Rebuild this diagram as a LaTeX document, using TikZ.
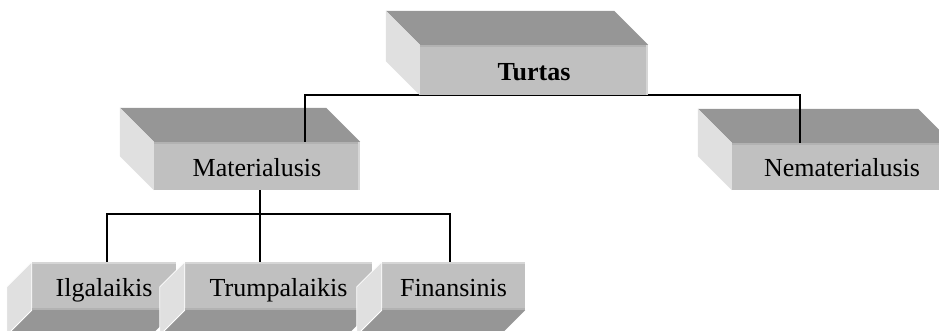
\documentclass[tikz,border=0pt]{standalone}
\usepackage{fontspec}
\setmainfont{Liberation Serif}
\usetikzlibrary{calc}

\definecolor{topface}{HTML}{969696}
\definecolor{frontface}{HTML}{C0C0C0}
\definecolor{sideface}{HTML}{E0E0E0}
\definecolor{edgedark}{HTML}{B2B2B2}
\definecolor{edgelight}{HTML}{D6D6D6}

\pgfdeclarelayer{front}
\pgfsetlayers{main,front}

% block standing up: top face above, side face on the left
\newcommand\raisedfaces[2]{%
  \fill[topface] (#1.north west) -- ++(-#2,#2) -- ($(#1.north east)+(-#2,#2)$) -- (#1.north east) -- cycle;
  \fill[sideface] (#1.north west) -- ++(-#2,#2) -- ($(#1.south west)+(-#2,#2)$) -- (#1.south west) -- cycle;
  \draw[edgedark, line width=2pt] ([yshift=-1pt]#1.north west) -- ([yshift=-1pt]#1.north east);
  \draw[edgelight, line width=2pt] ([xshift=-1pt]#1.north east) -- ([xshift=-1pt]#1.south east);
}
% block seen from below: bottom face underneath, side face on the left
\newcommand\loweredfaces[2]{%
  \fill[topface] (#1.south west) -- ++(-#2,-#2) -- ($(#1.south east)+(-#2,-#2)$) -- (#1.south east) -- cycle;
  \filldraw[fill=sideface, draw=white, line width=0.8pt] (#1.north west) -- ++(-#2,-#2) -- ($(#1.south west)+(-#2,-#2)$) -- (#1.south west) -- cycle;
  \draw[edgelight, line width=2pt] ([yshift=-1pt]#1.north west) -- ([yshift=-1pt]#1.north east);
  \draw[edgedark, line width=2pt] ([yshift=1pt]#1.south west) -- ([yshift=1pt]#1.south east);
}

\tikzset{
  face/.style={fill=frontface, inner sep=0pt, text height=21pt, text depth=0pt,
    font=\fontsize{26}{30}\selectfont},
  conn/.style={line width=1.8pt, black}
}

\begin{document}
\begin{tikzpicture}[x=1pt,y=1pt]
\useasboundingbox (0,0) rectangle (939,331);
\clip (0,0) rectangle (939,331);

% root block, kept above the connectors
\begin{pgfonlayer}{front}
  \node[face, minimum width=228pt, minimum height=50pt,
        font=\fontsize{26}{30}\selectfont\bfseries] (turtas) at (534,261) {Turtas};
  \raisedfaces{turtas}{34pt}
\end{pgfonlayer}

% second level
\node[face, minimum width=206pt, minimum height=48pt] (mat) at (257,165) {Materialusis};
\raisedfaces{mat}{34pt}
\node[face, minimum width=220pt, minimum height=47pt] (nem) at (842,164.5) {Nematerialusis};
\raisedfaces{nem}{34pt}

% third level
\node[face, minimum width=144pt, minimum height=48pt] (ilg) at (104,45) {Ilgalaikis};
\loweredfaces{ilg}{25pt}
\node[face, minimum width=187pt, minimum height=48pt] (trum) at (278.5,45) {Trumpalaikis};
\loweredfaces{trum}{25pt}
\node[face, minimum width=143pt, minimum height=48pt] (fin) at (453.5,45) {Finansinis};
\loweredfaces{fin}{25pt}

% connector attachment points
\coordinate (mtop) at ([xshift=151pt]mat.north west);
\coordinate (ntop) at ([xshift=68pt]nem.north west);
\coordinate (mbot) at ([xshift=106pt]mat.south west);
\coordinate (itop) at ([xshift=75pt]ilg.north west);
\coordinate (ttop) at ([xshift=75pt]trum.north west);
\coordinate (ftop) at ([xshift=68pt]fin.north west);
\coordinate (bus) at (0,117);

% connectors
\draw[conn] (mtop) -- (mtop |- turtas.south) -- (ntop |- turtas.south) -- (ntop);
\draw[conn] (mbot) -- (mbot |- bus);
\draw[conn] (itop) -- (itop |- bus) -- (ftop |- bus) -- (ftop);
\draw[conn] (ttop) -- (ttop |- bus);
\end{tikzpicture}
\end{document}
